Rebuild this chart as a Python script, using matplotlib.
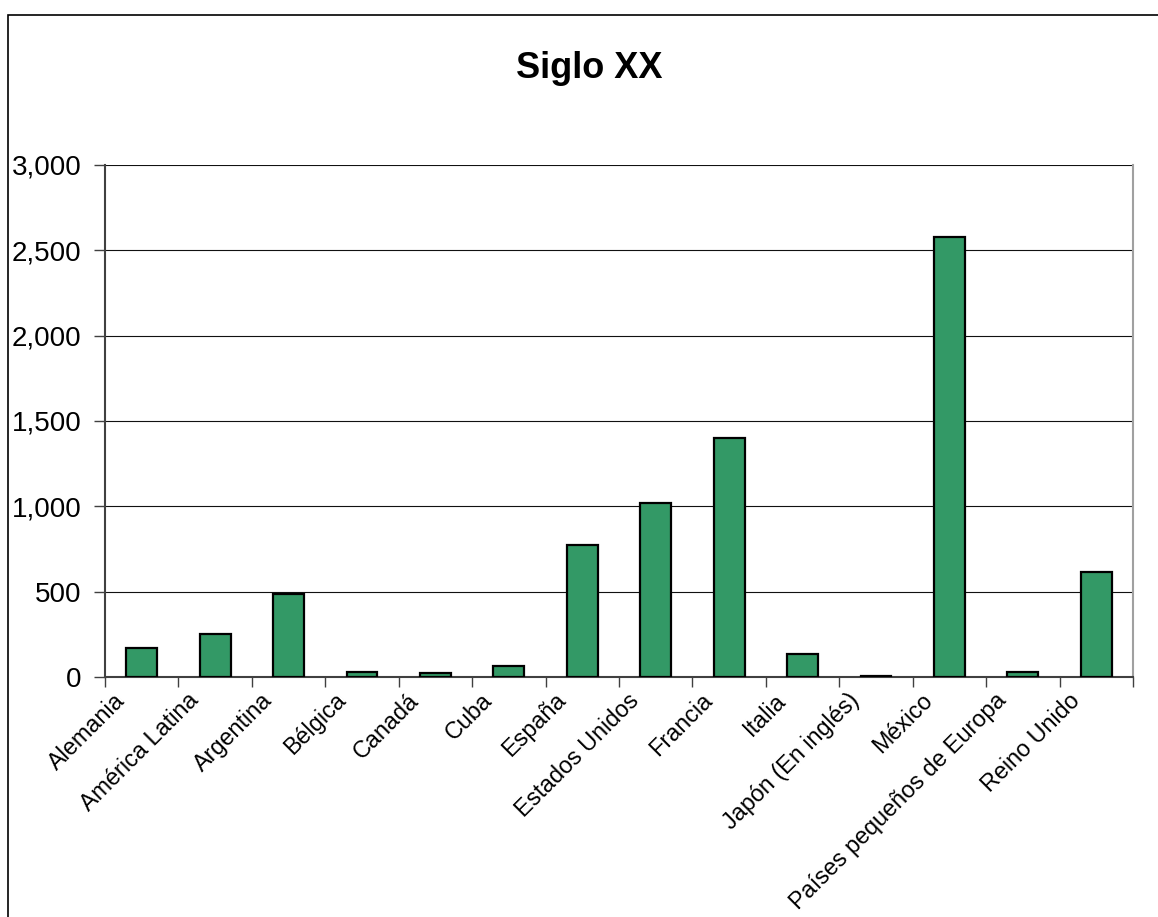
import matplotlib.pyplot as plt
import matplotlib.transforms as mtransforms
from matplotlib.patches import Rectangle
import numpy as np

plt.rcParams['font.family'] = ['Liberation Sans', 'DejaVu Sans']

categories = ["Alemania", "América Latina", "Argentina", "Bélgica", "Canadá",
              "Cuba", "España", "Estados Unidos", "Francia", "Italia",
              "Japón (En inglés)", "México", "Países pequeños de Europa",
              "Reino Unido"]
values = [168, 250, 485, 30, 22, 63, 773, 1020, 1400, 135, 8, 2580, 29, 615]
y_ticks = [0, 500, 1000, 1500, 2000, 2500, 3000]
y_labels = ["0", "500", "1,000", "1,500", "2,000", "2,500", "3,000"]

fig = plt.figure(figsize=(11.58, 9.17), dpi=100)
ax = fig.add_axes([105/1158, 1-677/917, (1133-105)/1158, (677-165)/917])

x = np.arange(len(categories))
ax.bar(x, values, width=0.42, color="#339966", edgecolor="black", linewidth=1.6, zorder=3)

ax.set_xlim(-0.5, len(categories) - 0.5)
ax.set_ylim(0, 3000)

ax.set_yticks(y_ticks)
ax.set_yticklabels(y_labels, fontsize=20)
ax.tick_params(axis="y", length=8, width=1, color="#404040", pad=9)
ax.yaxis.grid(True, color="#111111", linewidth=0.8, zorder=0)

# category boundaries get the tick marks, centres get the labels
ax.set_xticks(np.arange(-0.5, len(categories)), minor=False)
ax.set_xticklabels([])
ax.tick_params(axis="x", which="major", length=7, width=1, color="#404040")
ax.set_xticks(x, minor=True)
ax.set_xticklabels(categories, minor=True, fontsize=16.8, rotation=45,
                   ha="right", va="center", rotation_mode="anchor")
ax.tick_params(axis="x", which="minor", length=0, pad=0)
offset = mtransforms.ScaledTranslation(-20/100, -20/100, fig.dpi_scale_trans)
for lab in ax.get_xticklabels(minor=True):
    lab.set_transform(lab.get_transform() + offset)

ax.spines["top"].set_visible(False)
ax.spines["right"].set_color("#a0a0a0")
ax.spines["right"].set_linewidth(1.5)
ax.spines["left"].set_color("#404040")
ax.spines["left"].set_linewidth(1.5)
ax.spines["bottom"].set_color("#404040")
ax.spines["bottom"].set_linewidth(1.5)

fig.text(589/1158, 1-68/917, "Siglo XX", fontsize=26, fontweight="bold",
         ha="center", va="center")

# outer chart border (runs off the right and bottom edges)
border = Rectangle((8/1158, -0.05), 1.1, 1.05 - 15/917, transform=fig.transFigure,
                   fill=False, edgecolor="black", linewidth=1.2, clip_on=False)
fig.add_artist(border)

fig.savefig("out.png", dpi=100)
